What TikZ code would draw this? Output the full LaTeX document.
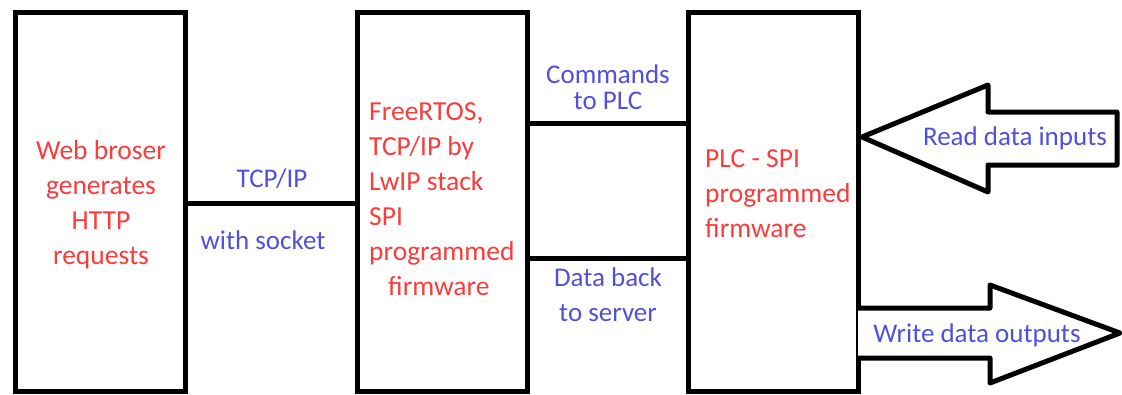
\documentclass[tikz,border=0pt]{standalone}
\usepackage{fontspec}
\setmainfont{Carlito}
\definecolor{redtxt}{RGB}{250,60,60}
\definecolor{bluetxt}{RGB}{80,80,220}
\begin{document}
\begin{tikzpicture}[x=1pt,y=-1pt,
  blockbox/.style={draw=black,line width=5pt,minimum width=170pt,minimum height=379pt,inner sep=0pt},
  link/.style={draw=black,line width=5pt},
  redlabel/.style={text=redtxt,font=\fontsize{27.5}{35}\selectfont,inner sep=0pt},
  bluelabel/.style={text=bluetxt,font=\fontsize{27}{35}\selectfont,inner sep=0pt},
  bigarrow/.style={draw=black,line width=5pt,line join=round,fill=white}]
\useasboundingbox (0,0) rectangle (1122,394);
\node[blockbox] (b1) at (100,201.5) {};
\node[blockbox] (b2) at (442,201.5) {};
\node[blockbox] (b3) at (773,202) {};
% connectors
\draw[link] ([yshift=-1.5pt]b1.east) -- ([yshift=-1.5pt]b2.west);
\draw[link] ([yshift=78.5pt]b2.east) -- ([yshift=79pt]b3.west);
\draw[link] ([yshift=-56.5pt]b2.east) -- ([yshift=-56pt]b3.west);
% big arrows
\draw[bigarrow] (862,137) -- (988,85) -- (988,112) -- (1117,112) -- (1117,165) -- (988,165) -- (988,192) -- cycle;
\draw[bigarrow] (858,308) -- (990,308) -- (990,285) -- (1120,333) -- (990,383) -- (990,358) -- (858,358);
% box texts
\node[redlabel,align=center] (t1) at (101,205) {Web broser\\generates\\HTTP\\requests};
\node[redlabel,align=left,anchor=west] (t2) at (369,199) {FreeRTOS,\\TCP/IP by\\LwIP stack\\SPI\\programmed\\\hspace*{19pt}firmware};
\node[redlabel,align=left,anchor=west] (t3) at (705,194) {PLC - SPI\\programmed\\firmware};
% connector labels
\node[bluelabel] (l1) at (272,179) {TCP/IP};
\node[bluelabel] (l2) at (263,240) {with socket};
\node[bluelabel,align=center,font=\fontsize{27}{26}\selectfont] (l3) at (608,87) {Commands\\to PLC};
\node[bluelabel,align=center] (l4) at (608,295) {Data back\\to server};
\node[bluelabel] (l5) at (1015,138) {Read data inputs};
\node[bluelabel] (l6) at (977,335) {Write data outputs};
\end{tikzpicture}
\end{document}
